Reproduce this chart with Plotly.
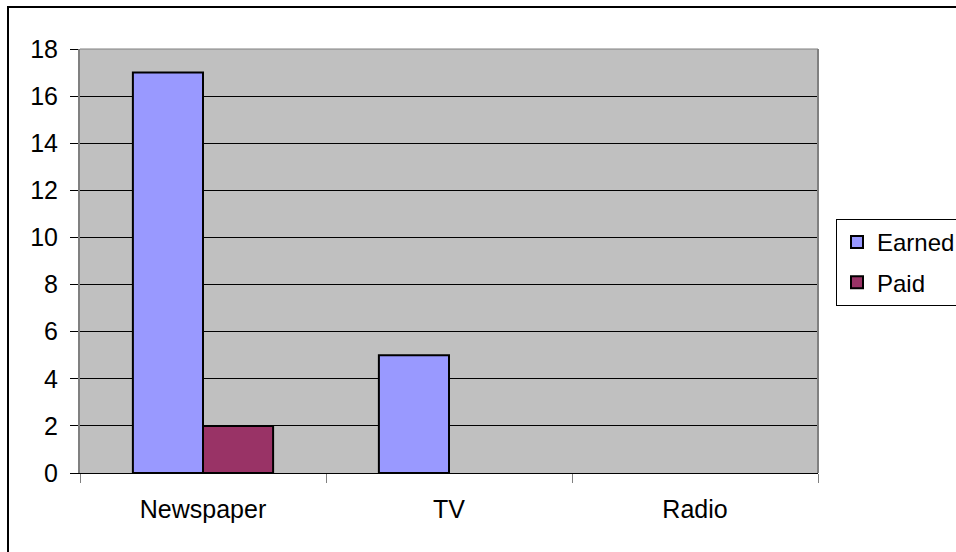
import plotly.graph_objects as go

categories = ["Newspaper", "TV", "Radio"]
earned = [17, 5, None]
paid = [2, None, None]
y_ticks = [0, 2, 4, 6, 8, 10, 12, 14, 16, 18]

FONT = dict(family="Liberation Sans, Arial, sans-serif", size=25, color="black")
LEG_FONT = dict(family="Liberation Sans, Arial, sans-serif", size=24, color="black")

fig = go.Figure()
fig.add_trace(go.Bar(name="Earned", x=categories, y=earned, legendgroup="a",
                     marker=dict(color="#9999FF", line=dict(color="black", width=2))))
fig.add_trace(go.Bar(name="Paid", x=categories, y=paid, legendgroup="b",
                     marker=dict(color="#993366", line=dict(color="black", width=2))))

L, R, T, B = 80, 818, 49, 473
W, H = 956, 552
pw, ph = R - L, B - T

def px_x(v):
    return (v - L) / pw

def px_y(v):
    return (B - v) / ph

fig.update_layout(
    width=W, height=H,
    margin=dict(l=L, r=W - R, t=T, b=H - B, pad=0, autoexpand=False),
    paper_bgcolor="white",
    plot_bgcolor="#C0C0C0",
    font=FONT,
    barmode="group",
    bargap=0.43,
    bargroupgap=0,
    showlegend=True,
    legend=dict(x=px_x(836), y=px_y(219), xanchor="left", yanchor="top",
                bordercolor="black", borderwidth=1, bgcolor="white",
                font=LEG_FONT, tracegroupgap=6, itemsizing="constant"),
    xaxis=dict(type="category", tickson="boundaries", ticks="outside", ticklen=9,
               tickcolor="#808080", tickwidth=1, showgrid=False,
               showline=True, linecolor="black", linewidth=1,
               ticklabelstandoff=14, fixedrange=True),
    yaxis=dict(range=[0, 18], tickvals=y_ticks, ticks="outside", ticklen=8,
               tickcolor="black", tickwidth=1, showgrid=True, gridcolor="black",
               gridwidth=1, zeroline=False, showline=True, linecolor="#808080",
               linewidth=2, ticklabelstandoff=7, fixedrange=True),
)

# plot area top and right border (gray)
fig.add_shape(type="line", xref="paper", yref="paper", x0=0, x1=1, y0=1, y1=1,
              line=dict(color="#808080", width=1))
fig.add_shape(type="line", xref="paper", yref="paper", x0=1, x1=1, y0=0, y1=1,
              line=dict(color="#808080", width=2))
# outer chart border (only left and top edges fall inside the picture)
fig.add_shape(type="rect", xref="paper", yref="paper",
              x0=px_x(8), x1=px_x(1000), y0=px_y(600), y1=px_y(7),
              line=dict(color="black", width=2), layer="below")

fig.write_html("out.html")
